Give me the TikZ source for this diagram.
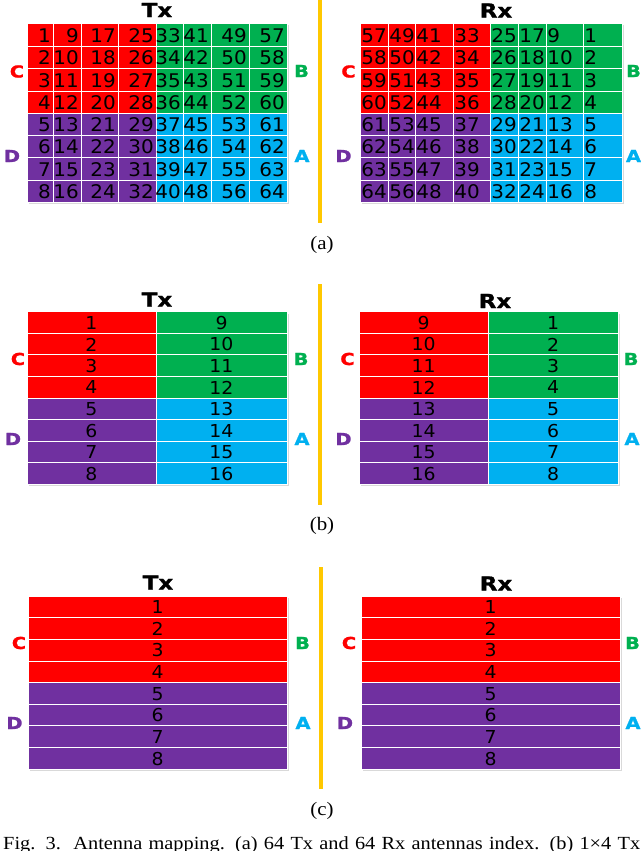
\documentclass[tikz,border=0pt]{standalone}
\usepackage{fontspec}
\setmainfont{Liberation Serif}
\newfontfamily\numfont[FakeStretch=1.06]{DejaVu Sans}
\newfontfamily\hdfont[FakeStretch=1.18,FakeBold=1.2]{DejaVu Sans}
\newfontfamily\capfont[FakeStretch=1.1]{Liberation Serif}
\definecolor{qred}{RGB}{255,0,0}
\definecolor{qgrn}{RGB}{0,176,80}
\definecolor{qblu}{RGB}{0,176,240}
\definecolor{qpur}{RGB}{112,48,160}
\definecolor{ybar}{RGB}{255,200,0}
\newcommand\setquad[2]{\ifnum#1<5 \ifnum#2<5 \def\cc{qred}\else\def\cc{qpur}\fi\else\ifnum#2<5 \def\cc{qgrn}\else\def\cc{qblu}\fi\fi}
\begin{document}
\begin{tikzpicture}[x=1pt,y=-1pt,
  cell/.style={draw=white, line width=0.7pt},
  shd/.style={fill=black!15},
  numa/.style={font=\numfont\fontsize{18.8}{20}\selectfont, inner sep=0pt},
  numb/.style={font=\numfont\fontsize{17.8}{19}\selectfont, inner sep=0pt},
  ttl/.style={font=\hdfont\bfseries\fontsize{19.5}{21}\selectfont, inner sep=0pt},
  lbl/.style={font=\hdfont\bfseries\fontsize{16.5}{18}\selectfont, inner sep=0pt},
  subcap/.style={font=\capfont\fontsize{19}{20}\selectfont, inner sep=0pt},
  bar/.style={draw=ybar, line width=3.5pt}]
\useasboundingbox (0,0) rectangle (640,851);
\fill[white] (0,0) rectangle (640,851);

% ================= (a) =================
\fill[shd] (29,25) rectangle (289,204);
\fill[shd] (362,25) rectangle (624,204);
\foreach \c/\xl/\xr in {1/27/53,2/53/81,3/81/118,4/118/156,5/156/183,6/183/211,7/211/249,8/249/287}{
  \foreach \r/\yt/\yb in {1/23/46,2/46/68,3/68/91,4/91/113,5/113/135,6/135/157,7/157/180,8/180/202}{
    \setquad{\c}{\r}
    \draw[cell,fill=\cc] (\xl,\yt) rectangle (\xr,\yb);
  }}
\foreach \c/\xl/\xr in {1/27/53,2/53/81,3/81/118,4/118/156,5/156/183,6/183/211,7/211/249,8/249/287}{
  \foreach \r/\yt/\yb in {1/23/46,2/46/68,3/68/91,4/91/113,5/113/135,6/135/157,7/157/180,8/180/202}{
    \pgfmathtruncatemacro\n{(\c-1)*8+\r}
    \node[numa,anchor=base east] (ta\c-\r) at (\xr-2,\yb-3.3) {\n};
  }}
\foreach \c/\xl/\xr in {1/360/388,2/388/415,3/415/453,4/453/490,5/490/518,6/518/546,7/546/583,8/583/622}{
  \foreach \r/\yt/\yb in {1/23/46,2/46/68,3/68/91,4/91/113,5/113/135,6/135/157,7/157/180,8/180/202}{
    \setquad{\c}{\r}
    \draw[cell,fill=\cc] (\xl,\yt) rectangle (\xr,\yb);
  }}
\foreach \c/\xl/\xr in {1/360/388,2/388/415,3/415/453,4/453/490,5/490/518,6/518/546,7/546/583,8/583/622}{
  \foreach \r/\yt/\yb in {1/23/46,2/46/68,3/68/91,4/91/113,5/113/135,6/135/157,7/157/180,8/180/202}{
    \pgfmathtruncatemacro\n{(8-\c)*8+\r}
    \node[numa,anchor=base west] (ra\c-\r) at (\xl+1.2,\yb-3.3) {\n};
  }}
\node[ttl] (tatitle) at (157,10) {Tx};
\node[ttl] (ratitle) at (496,10.5) {Rx};
\node[lbl,text=qred] (taC) at (17,71.5) {C};
\node[lbl,text=qgrn] (taB) at (301.5,71) {B};
\node[lbl,text=qpur] (taD) at (12,156) {D};
\node[lbl,text=qblu] (taA) at (302,156) {A};
\node[lbl,text=qred] (raC) at (348.5,71.5) {C};
\node[lbl,text=qgrn] (raB) at (633.5,71) {B};
\node[lbl,text=qpur] (raD) at (343.5,156) {D};
\node[lbl,text=qblu] (raA) at (633.5,156) {A};
\coordinate (bara1) at (320,0);
\coordinate (bara2) at (320,223);
\draw[bar] (bara1) -- (bara2);
\node[subcap] (capa) at (322,245) {(a)};

% ================= (b) =================
\fill[shd] (29,313.7) rectangle (289,486);
\fill[shd] (361,313.7) rectangle (620,486);
\foreach \r in {1,...,8}{
  \pgfmathsetmacro\yt{311.7+(\r-1)*21.54}
  \pgfmathsetmacro\yb{311.7+\r*21.54}
  \setquad{1}{\r}\draw[cell,fill=\cc] (27,\yt) rectangle (156,\yb);
  \setquad{6}{\r}\draw[cell,fill=\cc] (156,\yt) rectangle (287,\yb);
  \setquad{1}{\r}\draw[cell,fill=\cc] (359,\yt) rectangle (488,\yb);
  \setquad{6}{\r}\draw[cell,fill=\cc] (488,\yt) rectangle (618,\yb);
}
\foreach \r in {1,...,8}{
  \pgfmathsetmacro\ym{311.7+(\r-0.5)*21.54+0.4}
  \pgfmathtruncatemacro\m{\r+8}
  \node[numb] (tbl\r) at (91.5,\ym) {\r};
  \node[numb] (tbr\r) at (221.5,\ym) {\m};
  \node[numb] (rbl\r) at (423.5,\ym) {\m};
  \node[numb] (rbr\r) at (553,\ym) {\r};
}
\node[ttl] (tbtitle) at (157,299.5) {Tx};
\node[ttl] (rbtitle) at (495,301) {Rx};
\node[lbl,text=qred] (tbC) at (18,359) {C};
\node[lbl,text=qgrn] (tbB) at (301,359) {B};
\node[lbl,text=qpur] (tbD) at (13,439) {D};
\node[lbl,text=qblu] (tbA) at (302,439) {A};
\node[lbl,text=qred] (rbC) at (347.5,359) {C};
\node[lbl,text=qgrn] (rbB) at (631,359) {B};
\node[lbl,text=qpur] (rbD) at (343.5,439) {D};
\node[lbl,text=qblu] (rbA) at (632,439) {A};
\coordinate (barb1) at (320,284);
\coordinate (barb2) at (320,505);
\draw[bar] (barb1) -- (barb2);
\node[subcap] (capb) at (322,526) {(b)};

% ================= (c) =================
\fill[shd] (30,598) rectangle (289,771);
\fill[shd] (363,598) rectangle (622,771);
\foreach \r in {1,...,8}{
  \pgfmathsetmacro\yt{596+(\r-1)*21.625}
  \pgfmathsetmacro\yb{596+\r*21.625}
  \setquad{1}{\r}\draw[cell,fill=\cc] (28,\yt) rectangle (287,\yb);
  \setquad{1}{\r}\draw[cell,fill=\cc] (361,\yt) rectangle (620,\yb);
}
\foreach \r in {1,...,8}{
  \pgfmathsetmacro\ym{596+(\r-0.5)*21.625+0.4}
  \node[numb] (tc\r) at (157.5,\ym) {\r};
  \node[numb] (rc\r) at (490.5,\ym) {\r};
}
\node[ttl] (tctitle) at (158,582.5) {Tx};
\node[ttl] (rctitle) at (496,583.5) {Rx};
\node[lbl,text=qred] (tcC) at (19,643) {C};
\node[lbl,text=qgrn] (tcB) at (302.5,643) {B};
\node[lbl,text=qpur] (tcD) at (14.5,723) {D};
\node[lbl,text=qblu] (tcA) at (303,723) {A};
\node[lbl,text=qred] (rcC) at (349,643) {C};
\node[lbl,text=qgrn] (rcB) at (632.5,643) {B};
\node[lbl,text=qpur] (rcD) at (345,723) {D};
\node[lbl,text=qblu] (rcA) at (633,723) {A};
\coordinate (barc1) at (321,567);
\coordinate (barc2) at (321,789);
\draw[bar] (barc1) -- (barc2);
\node[subcap] (capc) at (322,811) {(c)};

% ================= caption =================
\node[font=\capfont\fontsize{18.5}{20}\selectfont, inner sep=0pt, anchor=base west] (figcap) at (3,849.5)
  {\makebox[637pt][s]{Fig. 3.\ \ Antenna mapping. (a) 64 Tx and 64 Rx antennas index. (b) 1×4 Tx}};
\end{tikzpicture}
\end{document}
